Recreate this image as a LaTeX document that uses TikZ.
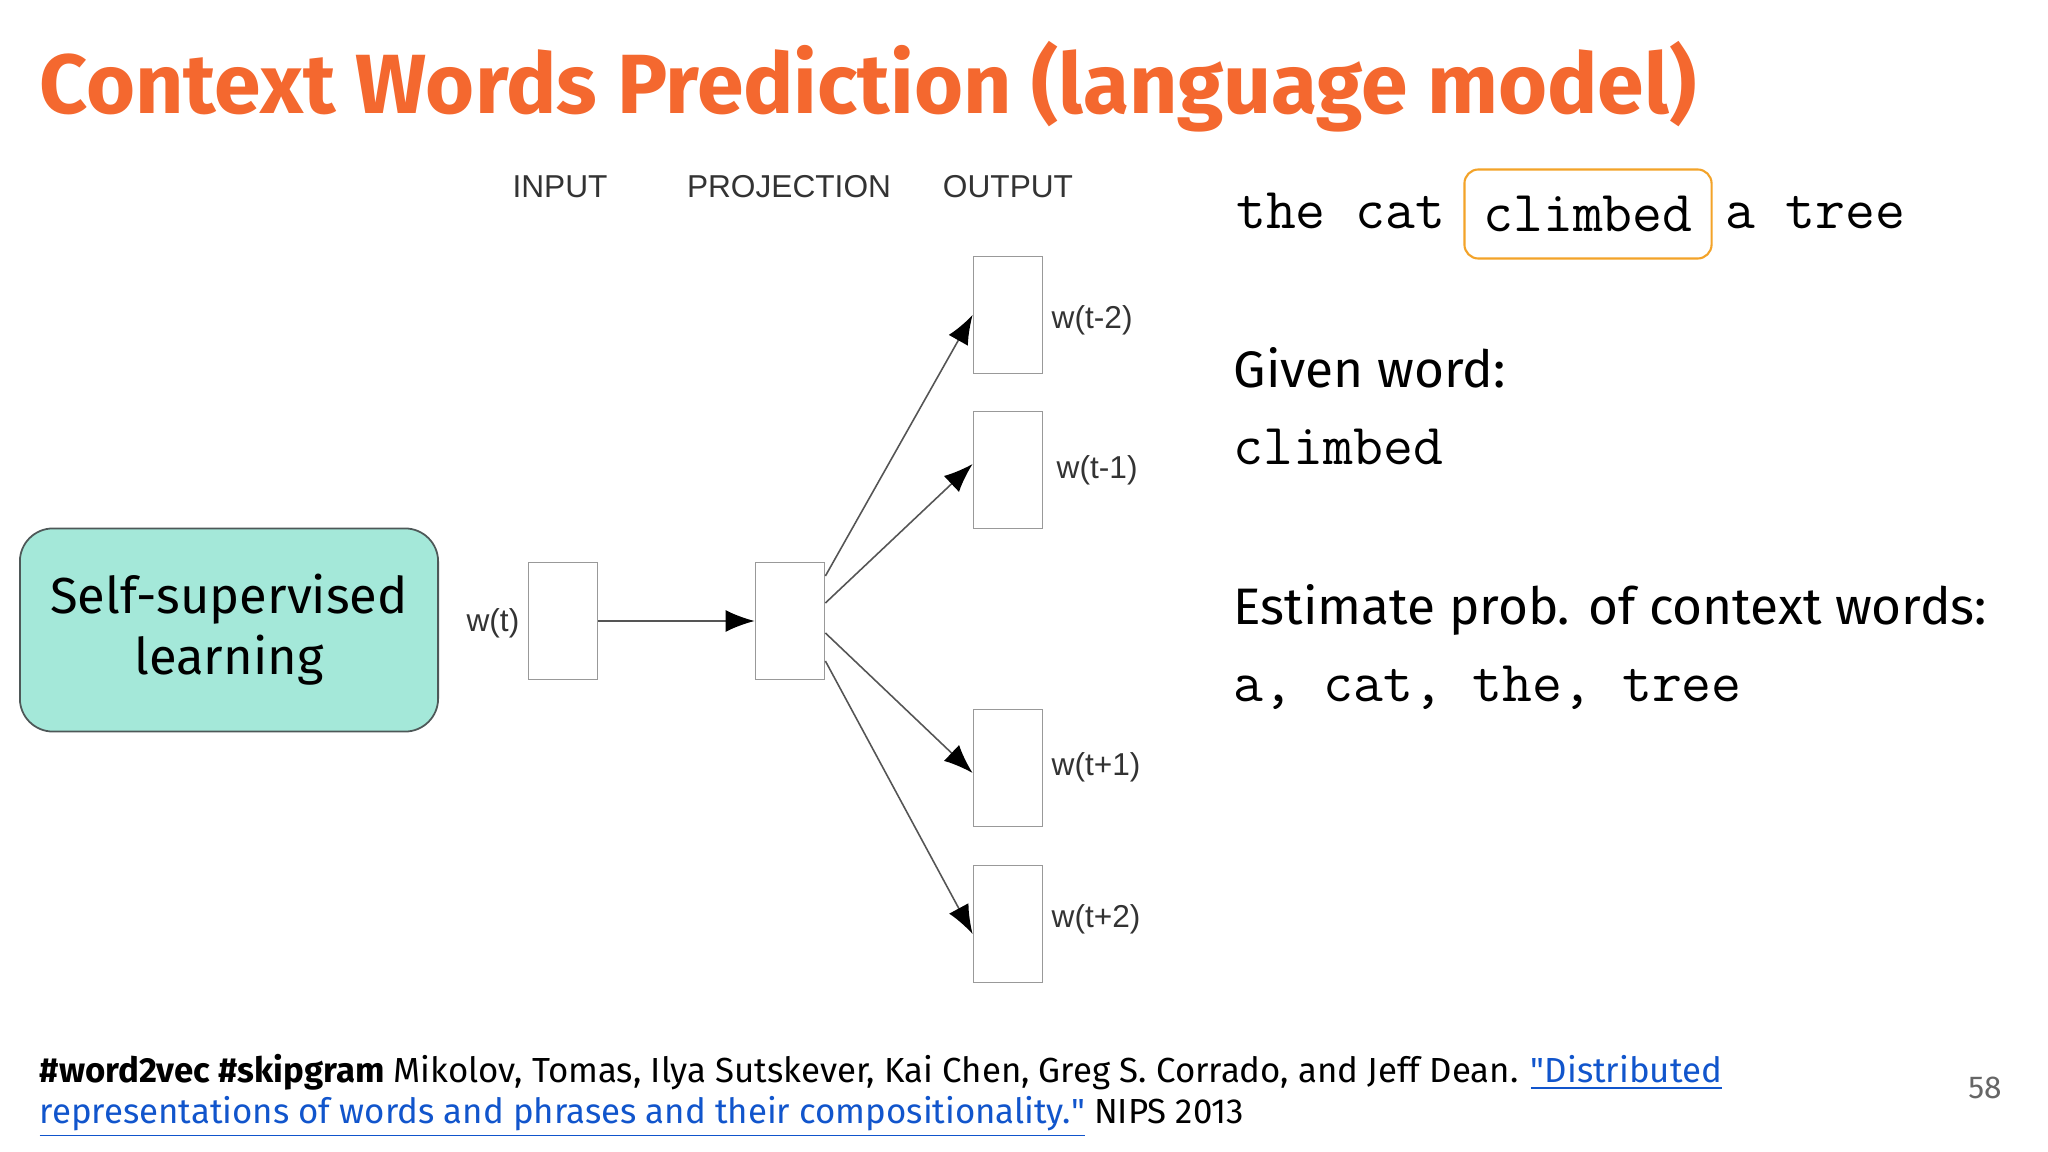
\documentclass[tikz,border=0pt]{standalone}
\usepackage{fontspec}
\setmainfont{Fira Sans}
\newfontfamily\labelfont{Liberation Sans}
\newfontfamily\quotefont{Fira Sans}[Ligatures=TeXOff]
\usetikzlibrary{arrows.meta}
\definecolor{titleorange}{HTML}{F4682F}
\definecolor{learnteal}{HTML}{A4E8D9}
\definecolor{learnedge}{HTML}{4E5858}
\definecolor{frameorange}{HTML}{F3A329}
\definecolor{linkblue}{HTML}{1155CC}
\definecolor{boxgray}{HTML}{999999}
\definecolor{linegray}{HTML}{555555}
\definecolor{labelgray}{HTML}{333333}
\definecolor{pagegray}{HTML}{666666}
\newcommand{\dq}{{\quotefont"}}

\begin{document}
\begin{tikzpicture}[x=0.01cm,y=-0.01cm,
  wbox/.style={draw=boxgray,line width=0.5pt,minimum width=0.69cm,minimum height=1.17cm,inner sep=0pt},
  layerlbl/.style={font=\labelfont\fontsize{9}{11}\selectfont,text=labelgray,anchor=base,inner sep=0pt},
  wlbl/.style={font=\labelfont\fontsize{9}{11}\selectfont,text=labelgray,inner sep=0pt},
  flow/.style={draw=linegray,line width=0.45pt,-{Latex[black,length=0.29cm,width=0.22cm]}},
  mono/.style={font=\ttfamily\fontsize{16.5}{19}\selectfont,anchor=base west,inner sep=0pt},
  plain/.style={font=\fontsize{14.6}{17}\selectfont,anchor=base west,inner sep=0pt}]
\useasboundingbox[fill=white] (0,0) rectangle (2048,1152);
% title
\node[font=\bfseries\fontsize{23.9}{28}\selectfont,text=titleorange,anchor=base west,inner sep=0pt] (title) at (39,114) {Context Words Prediction (language model)};
% left box
\node[draw=learnedge,fill=learnteal,line width=0.5pt,rounded corners=0.33cm,minimum width=4.18cm,minimum height=2.03cm,align=center,font=\fontsize{14.4}{17.4}\selectfont] (ssl) at (229,630) {Self-supervised\\learning};
% layer heads
\node[layerlbl] (headin) at (560,198) {INPUT};
\node[layerlbl] (headproj) at (789,198) {PROJECTION};
\node[layerlbl] (headout) at (1008,198) {OUTPUT};
% boxes
\node[wbox] (inbox) at (563,621) {}; % Input.0
\node[wbox] (proj) at (790,621) {}; % Projection.0
\node[wbox] (out1) at (1008,315) {}; % Output.0
\node[wbox] (out2) at (1008,470) {}; % Output.1
\node[wbox] (out3) at (1008,768) {}; % Output.2
\node[wbox] (out4) at (1008,924) {}; % Output.3
% word labels
\node[wlbl,anchor=east] (lblin) at (520,623) {w(t)};
\node[wlbl,anchor=west] (lbl1) at (1051,320) {w(t-2)};
\node[wlbl,anchor=west] (lbl2) at (1056,470) {w(t-1)};
\node[wlbl,anchor=west] (lbl3) at (1051,767) {w(t+1)};
\node[wlbl,anchor=west] (lbl4) at (1051,919) {w(t+2)};
% connectors
\draw[flow] (inbox.east) -- (proj.west);
\draw[flow] ([yshift=0.45cm]proj.east) -- (out1.west);
\draw[flow] ([yshift=0.18cm]proj.east) -- ([yshift=0.06cm]out2.west);
\draw[flow] ([yshift=-0.12cm]proj.east) -- ([yshift=-0.05cm]out3.west);
\draw[flow] ([yshift=-0.40cm]proj.east) -- ([yshift=-0.10cm]out4.west);
% right text
\node[mono,anchor=base east] (ctxleft) at (1446,229) {the cat};
\node[draw=frameorange,line width=0.6pt,rounded corners=0.14cm,minimum width=2.47cm,minimum height=0.89cm,inner sep=0pt,font=\ttfamily\fontsize{16.5}{19}\selectfont] (target) at (1588,214) {climbed};
\node[mono] (ctxright) at (1725,229) {a tree};
\node[plain] (givenhead) at (1233,388) {Given word:};
\node[mono] (givenword) at (1233,465) {climbed};
\node[plain] (esthead) at (1233,624) {Estimate prob. of context words:};
\node[mono] (estwords) at (1233,701) {a, cat, the, tree};
% footer
\node[anchor=base west,inner sep=0pt,align=left,font=\fontsize{9.9}{11.5}\selectfont] (cite) at (39,1123) {\textbf{\#word2vec \#skipgram} Mikolov, Tomas, Ilya Sutskever, Kai Chen, Greg S. Corrado, and Jeff Dean. \textcolor{linkblue}{\underline{\dq Distributed}}\\\textcolor{linkblue}{\underline{representations of words and phrases and their compositionality.\dq}} NIPS 2013};
\node[font=\fontsize{9}{11}\selectfont,text=pagegray,inner sep=0pt] (pagenum) at (1985,1088) {58};
\end{tikzpicture}
\end{document}
